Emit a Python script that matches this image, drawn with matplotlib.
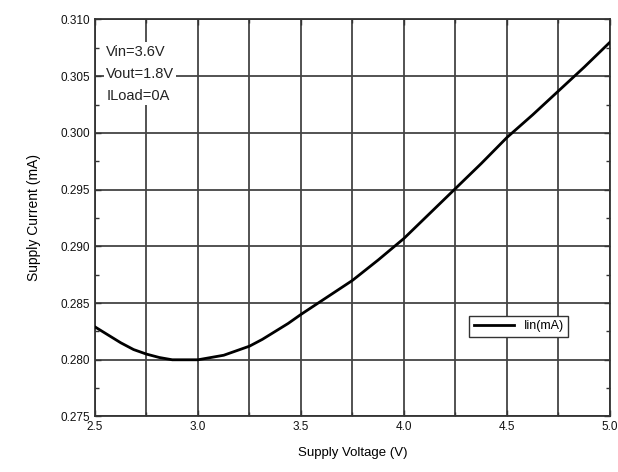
import matplotlib
matplotlib.use("Agg")
import matplotlib.pyplot as plt
from matplotlib.ticker import MultipleLocator

plt.rcParams["font.family"] = ["Liberation Sans", "DejaVu Sans"]

# supply voltage (V) and supply current (mA)
vin = [2.5, 2.5625, 2.625, 2.6875, 2.75, 2.8125, 2.875, 2.9375, 3.0, 3.0625,
       3.125, 3.1875, 3.25, 3.3125, 3.375, 3.4375, 3.5, 3.625, 3.75,
       3.875, 4.0, 4.125, 4.25, 4.375, 4.5, 4.625, 4.75, 4.875, 5.0]
iin = [0.2829, 0.2822, 0.2815, 0.2809, 0.2805, 0.2802, 0.2800, 0.2800, 0.2800,
       0.2802, 0.2804, 0.2808, 0.2812, 0.2818, 0.2825, 0.2832, 0.2840,
       0.2855, 0.2870, 0.2888, 0.2907, 0.2929, 0.2951, 0.2973, 0.2996,
       0.3016, 0.3037, 0.3058, 0.3080]
conditions = ["Vin=3.6V", "Vout=1.8V", "ILoad=0A"]

fig = plt.figure(figsize=(6.18, 4.72), dpi=100)
ax = fig.add_axes([0.1537, 0.1176, 0.8333, 0.8411])

ax.plot(vin, iin, color="black", lw=2.0, label="Iin(mA)", zorder=3)

ax.set_xlim(2.5, 5.0)
ax.set_ylim(0.275, 0.310)
ax.xaxis.set_major_locator(MultipleLocator(0.5))
ax.xaxis.set_minor_locator(MultipleLocator(0.25))
ax.yaxis.set_major_locator(MultipleLocator(0.005))
ax.yaxis.set_minor_locator(MultipleLocator(0.0025))
ax.xaxis.set_major_formatter(lambda v, p: f"{v:.1f}")
ax.yaxis.set_major_formatter(lambda v, p: f"{v:.3f}")

ax.grid(True, which="major", color="#444444", lw=1.3)
ax.grid(True, which="minor", axis="x", color="#444444", lw=1.3)
ax.tick_params(which="both", direction="in", top=True, right=True,
               labelsize=8.5, labelcolor="#111111", color="#333333", width=1.0)
ax.tick_params(which="major", length=4)
ax.tick_params(which="minor", length=3)
for s in ax.spines.values():
    s.set_color("#333333"); s.set_linewidth(1.3)

ax.text(0.022, 0.937, "\n".join(conditions), transform=ax.transAxes,
        ha="left", va="top", fontsize=10.5, linespacing=1.75, color="#222222",
        bbox=dict(facecolor="white", edgecolor="none", pad=1.5), zorder=4)

ax.legend(loc="lower left", bbox_to_anchor=(0.715, 0.185), fontsize=9,
          frameon=True, fancybox=False, edgecolor="#333333", framealpha=1,
          handlelength=3.2, borderpad=0.35)

ax.set_xlabel("Supply Voltage (V)", fontsize=9.5, labelpad=10)
ax.set_ylabel("Supply Current (mA)", fontsize=10, labelpad=14)

fig.savefig("out.png", dpi=100)
